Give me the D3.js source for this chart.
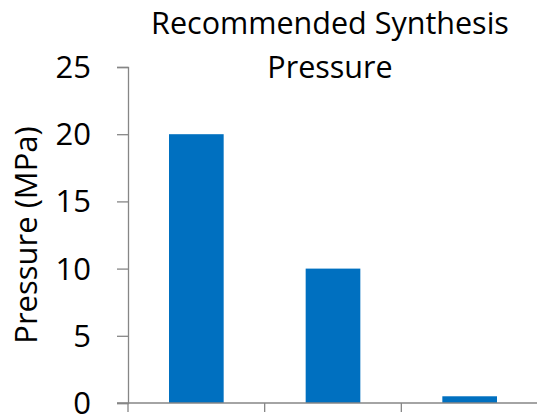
<!DOCTYPE html>
<html>
<head>
<meta charset="utf-8">
<script src="https://cdn.jsdelivr.net/npm/d3@7"></script>
<style>
  html, body { margin: 0; padding: 0; background: #fff; }
  svg text { font-family: "Open Sans", "Liberation Sans", sans-serif; fill: #000; }
</style>
</head>
<body>
<svg id="chart" width="537" height="417"></svg>
<script>
// Chart data
const categories = ["A", "B", "C"];
const pressures = [20, 10, 0.5];
const yTicks = [0, 5, 10, 15, 20, 25];
const titleLines = ["Recommended Synthesis", "Pressure"];
const yLabel = "Pressure (MPa)";

const svg = d3.select("#chart");
const W = 537, H = 417;
const plotLeft = 128;

const x = d3.scaleBand()
  .domain(categories)
  .range([plotLeft, W + 1])
  .paddingInner(0.6)
  .paddingOuter(0.3);

const y = d3.scaleLinear()
  .domain([0, 25])
  .range([403, 67]);

const axisColor = "#868686";

// Bars
svg.append("g").selectAll("rect")
  .data(categories)
  .enter().append("rect")
  .attr("x", d => x(d))
  .attr("width", x.bandwidth())
  .attr("y", (d, i) => y(pressures[i]))
  .attr("height", (d, i) => y(0) - y(pressures[i]))
  .attr("fill", "#0070C0");

// Y axis
const yAxis = svg.append("g")
  .attr("transform", `translate(${plotLeft},0)`)
  .call(d3.axisLeft(y).tickValues(yTicks).tickSize(11).tickPadding(26));
yAxis.select(".domain").attr("stroke", axisColor).attr("stroke-width", 1.3);
yAxis.selectAll(".tick line").attr("stroke", axisColor).attr("stroke-width", 1.3);
yAxis.selectAll(".tick text")
  .style("font-size", "31px")
  .attr("dy", "0.34em")
  .attr("fill", "#000");

// X axis: horizontal baseline with category dividers
const step = x.step();
const boundaries = categories.map((c, i) => plotLeft + i * step);
const xg = svg.append("g");
xg.append("line")
  .attr("x1", plotLeft - 11).attr("x2", W)
  .attr("y1", y(0)).attr("y2", y(0))
  .attr("stroke", axisColor).attr("stroke-width", 1.3);
xg.selectAll("line.div")
  .data(boundaries)
  .enter().append("line")
  .attr("class", "div")
  .attr("x1", d => d).attr("x2", d => d)
  .attr("y1", y(0)).attr("y2", y(0) + 9)
  .attr("stroke", axisColor).attr("stroke-width", 1.3);

// Title
svg.append("g").selectAll("text")
  .data(titleLines)
  .enter().append("text")
  .attr("x", 330)
  .attr("y", (d, i) => 34 + i * 44)
  .attr("text-anchor", "middle")
  .style("font-size", "30.5px")
  .text(d => d);

// Y axis label
svg.append("text")
  .attr("transform", `translate(37,235) rotate(-90)`)
  .attr("text-anchor", "middle")
  .style("font-size", "31px")
  .text(yLabel);
</script>
</body>
</html>
